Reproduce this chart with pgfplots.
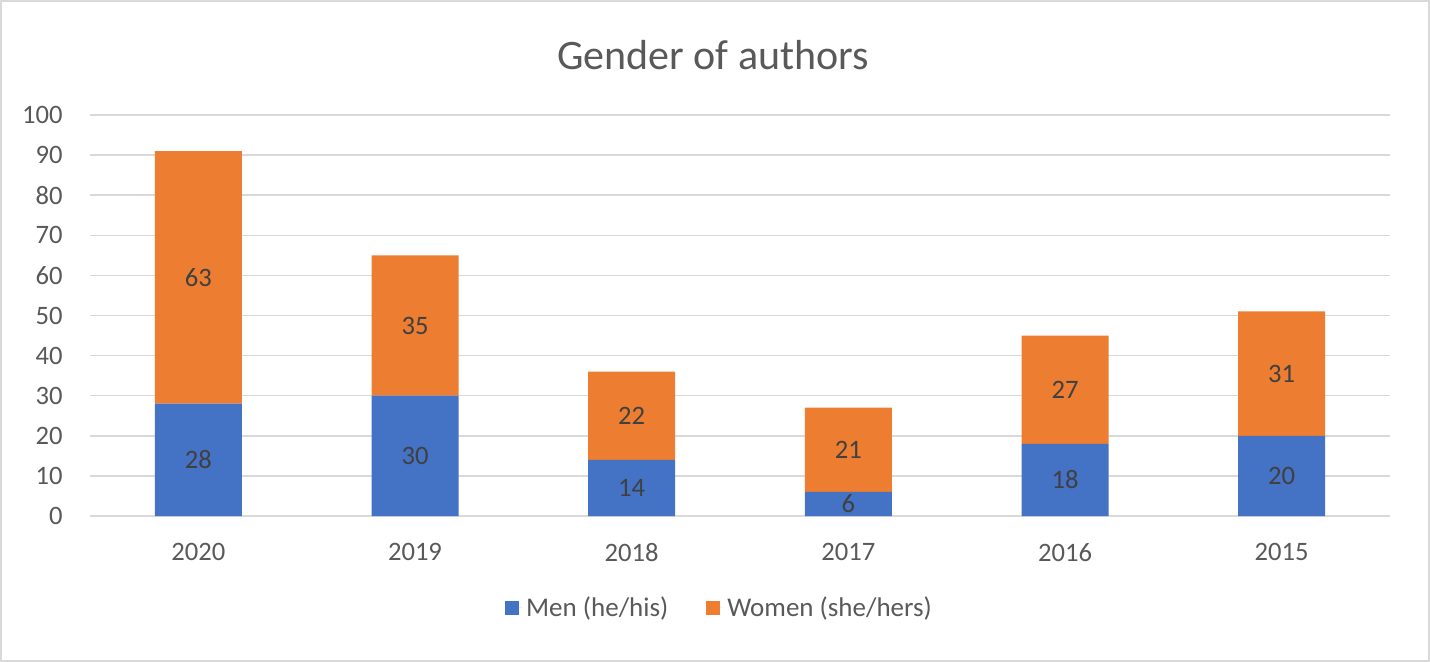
\documentclass[border=0pt]{standalone}
\usepackage{fontspec}
\setmainfont{Carlito}
\usepackage{pgfplots}
\pgfplotsset{compat=1.18}
\usepackage{pgfplotstable}
\definecolor{menblue}{HTML}{4472C4}
\definecolor{womenorange}{HTML}{ED7D31}
\definecolor{txtgray}{HTML}{595959}
\definecolor{lblgray}{HTML}{404040}
\definecolor{gridgray}{HTML}{D9D9D9}

\pgfplotstableread{
x men women
0 28 63
1 30 35
2 14 22
3 6 21
4 18 27
5 20 31
}\authors

\begin{document}
\begin{tikzpicture}[x=1pt,y=1pt]
\useasboundingbox (0,0) rectangle (715,-331);
\draw[gridgray, line width=0.8pt] (0.5,-0.5) rectangle (714.5,-330.5);
\node[txtgray, font=\fontsize{21}{25}\selectfont] at (356.5,-27.5) {Gender of authors};
\begin{axis}[
  at={(45pt,-258pt)}, anchor=south west,
  scale only axis, width=650pt, height=200.5pt,
  ybar stacked, bar width=43.5pt,
  xmin=-0.5, xmax=5.5, ymin=0, ymax=100,
  xtick={0,...,5}, xticklabels={2020,2019,2018,2017,2016,2015},
  ytick={0,10,...,100},
  axis line style={draw=none},
  major tick length=0pt,
  ymajorgrids, grid style={gridgray, line width=0.75pt},
  tick label style={font=\fontsize{13.3}{16}\selectfont, text=txtgray, inner sep=0pt},
  yticklabel style={anchor=east, xshift=-13.5pt},
  xticklabel style={anchor=north, yshift=-13.5pt},
  /pgf/number format/assume math mode=true,
  legend image code/.code={\fill[#1] (0pt,-3.5pt) rectangle (7pt,3.5pt);
    \path (0pt,0pt) -- (8.5pt,0pt);},
  legend style={at={(0.485,-0.2294)}, anchor=center, draw=none, fill=none,
    legend columns=2, font=\fontsize{13.5}{16}\selectfont, text=txtgray,
    /tikz/every even column/.append style={column sep=17pt}},
  legend cell align=left,
]
\addplot[fill=menblue, draw=none] table[x=x, y=men] {\authors};
\addplot[fill=womenorange, draw=none] table[x=x, y=women] {\authors};
\legend{Men (he/his), Women (she/hers)}
\end{axis}
\begin{axis}[
  at={(45pt,-258pt)}, anchor=south west,
  scale only axis, width=650pt, height=200.5pt,
  xmin=-0.5, xmax=5.5, ymin=0, ymax=100,
  hide axis, clip=false,
  /pgf/number format/assume math mode=true,
  nodes near coords style={anchor=center, font=\fontsize{13.3}{16}\selectfont, text=lblgray},
]
\addplot[draw=none, mark=none, nodes near coords, point meta=explicit]
  table[x=x, y expr=\thisrow{men}/2, meta=men] {\authors};
\addplot[draw=none, mark=none, nodes near coords, point meta=explicit]
  table[x=x, y expr=\thisrow{men}+\thisrow{women}/2, meta=women] {\authors};
\end{axis}
\end{tikzpicture}
\end{document}
